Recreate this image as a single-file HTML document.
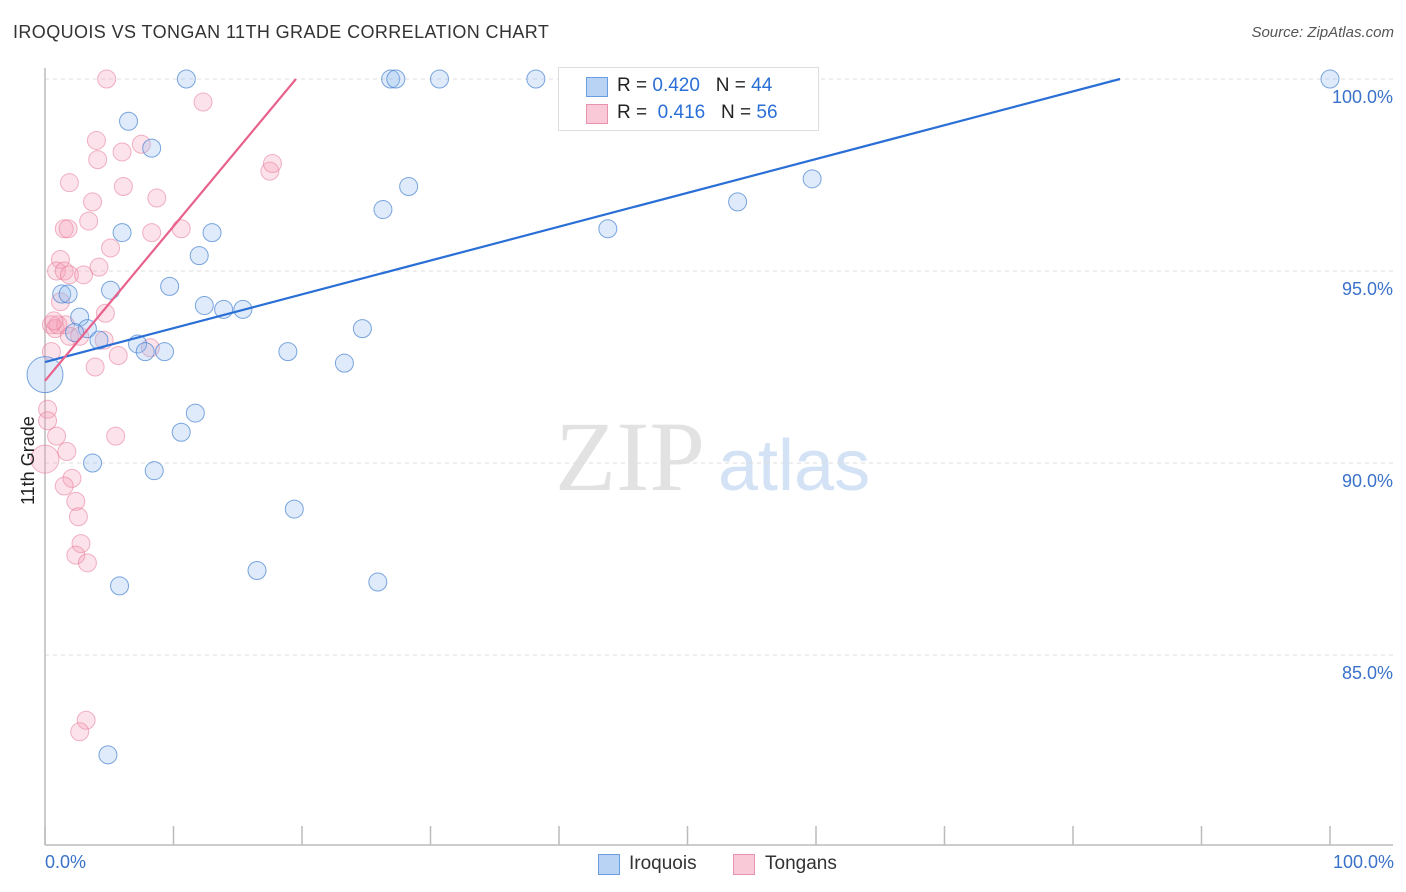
<!DOCTYPE html>
<html><head><meta charset="utf-8">
<style>
body{margin:0;background:#fff;font-family:"Liberation Sans",sans-serif;}
#wrap{position:relative;width:1406px;height:892px;overflow:hidden;}
.t{position:absolute;white-space:nowrap;}
</style></head>
<body>
<div id="wrap">
<div class="t" style="left:13px;top:22px;font-size:18px;color:#333;letter-spacing:0.4px">IROQUOIS VS TONGAN 11TH GRADE CORRELATION CHART</div>
<div class="t" style="right:12px;top:24px;font-size:15px;color:#555;font-style:italic">Source: ZipAtlas.com</div>
<svg id="svg" width="1406" height="892" style="position:absolute;left:0;top:0"></svg>
</div>
<script>
const blueX=[11.0,26.9,27.3,30.7,38.2,100,6.5,8.3,26.3,28.3,6.0,13.0,12.0,9.7,5.1,1.3,1.8,2.7,3.3,2.3,4.2,12.4,13.9,15.4,7.2,7.8,9.3,18.9,24.7,23.3,43.8,53.9,59.7,11.7,10.6,3.7,8.5,19.4,16.5,25.9,5.8,4.9,0];
const blueY=[100,100,100,100,100,100,98.9,98.2,96.6,97.2,96.0,96.0,95.4,94.6,94.5,94.4,94.4,93.8,93.5,93.4,93.2,94.1,94.0,94.0,93.1,92.9,92.9,92.9,93.5,92.6,96.1,96.8,97.4,91.3,90.8,90.0,89.8,88.8,87.2,86.9,86.8,82.4,92.3];
const blueR=[9,9,9,9,9,9,9,9,9,9,9,9,9,9,9,9,9,9,9,9,9,9,9,9,9,9,9,9,9,9,9,9,9,9,9,9,9,9,9,9,9,9,18];
const pinkX=[4.8,12.3,4.0,4.1,6.0,7.5,1.9,6.1,8.7,3.7,3.4,1.5,1.8,8.3,10.6,5.1,17.5,17.7,1.2,0.9,1.5,1.9,3.0,4.2,1.2,4.7,0.5,0.8,1.6,1.9,2.7,4.6,5.7,3.9,0.5,8.2,0.2,0.2,0.9,5.5,1.7,0,2.1,1.5,2.4,2.6,2.8,2.4,3.3,3.2,2.7,1.0,0.7];
const pinkY=[100,99.4,98.4,97.9,98.1,98.3,97.3,97.2,96.9,96.8,96.3,96.1,96.1,96.0,96.1,95.6,97.6,97.8,95.3,95.0,95.0,94.9,94.9,95.1,94.2,93.9,93.6,93.5,93.6,93.3,93.3,93.2,92.8,92.5,92.9,93.0,91.4,91.1,90.7,90.7,90.3,90.1,89.6,89.4,89.0,88.6,87.9,87.6,87.4,83.3,83.0,93.6,93.7];
const pinkR=[9,9,9,9,9,9,9,9,9,9,9,9,9,9,9,9,9,9,9,9,9,9,9,9,9,9,9,9,9,9,9,9,9,9,9,9,9,9,9,9,9,14,9,9,9,9,9,9,9,9,9,9,9];
const yTicks=[100,95,90,85];
const blueTrend=[[0,92.63],[83.66,100]];
const pinkTrend=[[0,92.14],[19.53,100]];
const X=v=>45+v*12.85, Y=v=>79+(100-v)*38.4;
const svg=document.getElementById('svg');const NS='http://www.w3.org/2000/svg';
function mk(tag,attrs,parent){const e=document.createElementNS(NS,tag);for(const k in attrs)e.setAttribute(k,attrs[k]);(parent||svg).appendChild(e);return e;}
let w=mk('text',{x:555,y:490,'font-size':100,'font-family':'Liberation Serif,serif',fill:'#e2e2e2'});w.textContent='ZIP';


let w2=mk('text',{x:718,y:490,'font-size':72,'font-family':'Liberation Sans,sans-serif',fill:'#d3e2f5'});w2.textContent='atlas';


yTicks.forEach(v=>{
 let g=mk('line',{x1:45,x2:1393,y1:Y(v),y2:Y(v),stroke:'#ddd','stroke-dasharray':'4,4'});
 
 
 let t=mk('text',{x:1393,y:Y(v)+24,'text-anchor':'end','font-size':18,fill:'#3a72c9','font-family':'Liberation Sans,sans-serif'});t.textContent=v.toFixed(1)+'%';
 
 
});
let ax=mk('line',{x1:45,x2:45,y1:68,y2:845,stroke:'#bbb','stroke-width':1.5});


let bx=mk('line',{x1:45,x2:1393,y1:845,y2:845,stroke:'#bbb','stroke-width':1.5});


for(let i=0;i<=10;i++){let l=mk('line',{x1:X(i*10),x2:X(i*10),y1:826,y2:845,stroke:'#bbb','stroke-width':1.5});
 
 }
function pts(xs,ys,rs,fill,stroke,name){xs.forEach((x,i)=>{let c=mk('circle',{cx:X(x),cy:Y(ys[i]),r:rs[i],fill:fill,stroke:stroke,'stroke-width':1});
 
 });}
pts(pinkX,pinkY,pinkR,'rgba(245,160,185,0.3)','rgba(230,120,150,0.55)','tongans-point');
pts(blueX,blueY,blueR,'rgba(150,190,240,0.3)','rgba(70,130,210,0.7)','iroquois-point');
let tl=mk('line',{x1:X(blueTrend[0][0]),y1:Y(blueTrend[0][1]),x2:X(blueTrend[1][0]),y2:Y(blueTrend[1][1]),stroke:'#2a6fd6','stroke-width':2.2});


let tp=mk('line',{x1:X(pinkTrend[0][0]),y1:Y(pinkTrend[0][1]),x2:X(pinkTrend[1][0]),y2:Y(pinkTrend[1][1]),stroke:'#e8628c','stroke-width':2.2});


</script>
<div class="t" style="left:45px;top:852px;font-size:18px;color:#3a72c9">0.0%</div>
<div class="t" style="right:12px;top:852px;font-size:18px;color:#3a72c9">100.0%</div>
<div class="t" style="left:18px;font-size:18px;color:#222;transform:rotate(-90deg);transform-origin:left top;top:505px">11th Grade</div>
<div style="position:absolute;left:558px;top:67px;width:259px;height:62px;border:1px solid #ddd;background:#fff">
 <div style="position:absolute;left:27px;top:9px;width:20px;height:18px;background:#b9d3f5;border:1px solid #6a9ee0"></div>
 <div class="t" style="left:58px;top:7px;font-size:19px;color:#222">R = <span style="color:#2a6fd6">0.420</span>&nbsp;&nbsp;&nbsp;N = <span style="color:#2a6fd6">44</span></div>
 <div style="position:absolute;left:27px;top:36px;width:20px;height:18px;background:#f9c9d7;border:1px solid #e892ad"></div>
 <div class="t" style="left:58px;top:34px;font-size:19px;color:#222">R = &nbsp;<span style="color:#2a6fd6">0.416</span>&nbsp;&nbsp;&nbsp;N = <span style="color:#2a6fd6">56</span></div>
</div>
<div style="position:absolute;left:598px;top:854px;width:20px;height:19px;background:#b9d3f5;border:1px solid #6a9ee0"></div>
<div class="t" style="left:629px;top:853px;font-size:19px;color:#333">Iroquois</div>
<div style="position:absolute;left:733px;top:854px;width:20px;height:19px;background:#f9c9d7;border:1px solid #e892ad"></div>
<div class="t" style="left:765px;top:853px;font-size:19px;color:#333">Tongans</div>
</body></html>
